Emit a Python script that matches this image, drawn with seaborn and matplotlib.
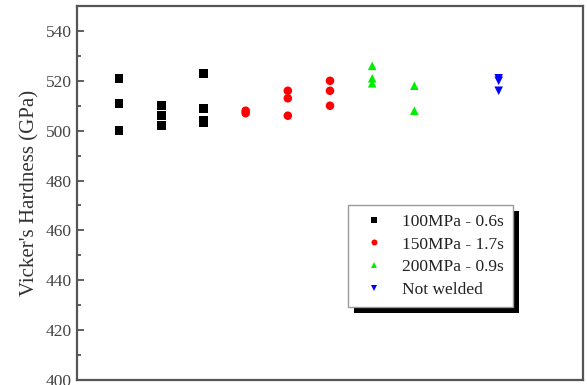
import numpy as np
import pandas as pd
import matplotlib
matplotlib.use("Agg")
import matplotlib.pyplot as plt
from matplotlib.patches import Rectangle
from matplotlib.ticker import MultipleLocator
import seaborn as sns

# Vickers hardness measurements per sample position
positions_100 = [1, 1, 1, 2, 2, 2, 3, 3, 3, 3, 3]
hardness_100 = [521, 511, 500, 510, 506, 502, 523, 523, 509, 504, 503]

positions_150 = [4, 4, 5, 5, 5, 6, 6, 6]
hardness_150 = [508, 507, 516, 513, 506, 520, 516, 510]

positions_200 = [7, 7, 7, 8, 8]
hardness_200 = [526, 521, 519, 518, 508]

positions_ref = [10, 10, 10]
hardness_ref = [521, 520, 516]

series_labels = ["100MPa - 0.6s", "150MPa - 1.7s", "200MPa - 0.9s", "Not welded"]
series_colors = ["#000000", "#ff0000", "#00ee00", "#0000ff"]
series_markers = ["s", "o", "^", "v"]
y_ticks = [400, 420, 440, 460, 480, 500, 520, 540]

frames = []
for lab, xs, ys in zip(series_labels,
                       [positions_100, positions_150, positions_200, positions_ref],
                       [hardness_100, hardness_150, hardness_200, hardness_ref]):
    frames.append(pd.DataFrame({"position": xs, "hardness": ys, "condition": lab}))
df = pd.concat(frames, ignore_index=True)

sns.set_style("white")
plt.rcParams["font.family"] = ["Liberation Serif", "DejaVu Serif"]

fig = plt.figure(figsize=(5.87, 3.85), dpi=100)
ax = fig.add_axes([77 / 587, 5 / 385, 506 / 587, 374 / 385])

sns.scatterplot(
    data=df, x="position", y="hardness",
    hue="condition", style="condition",
    hue_order=series_labels, style_order=series_labels,
    palette=dict(zip(series_labels, series_colors)),
    markers=dict(zip(series_labels, series_markers)),
    s=38, linewidth=0, ax=ax,
)

ax.set_xlim(0, 12)
ax.set_ylim(400, 550)
ax.set_xticks([])
ax.set_yticks(y_ticks)
ax.yaxis.set_minor_locator(MultipleLocator(10))
ax.tick_params(axis="y", which="major", direction="in", length=5, width=1.2,
               color="#444444", labelcolor="#444444", labelsize=12.5, pad=4, left=True)
ax.tick_params(axis="y", which="minor", direction="in", length=3, width=1.2,
               color="#444444", left=True)
ax.set_xlabel("")
ax.set_ylabel("Vicker's Hardness (GPa)", fontsize=15, color="#333333", labelpad=4)

for sp in ax.spines.values():
    sp.set_visible(True)
    sp.set_color("#555555")
    sp.set_linewidth(1.6)

handles, labels = ax.get_legend_handles_labels()
leg = ax.legend(handles, labels, loc="upper left", bbox_to_anchor=(0.536, 0.468),
                borderaxespad=0, frameon=True, fancybox=False, fontsize=12.5,
                markerscale=0.7, handletextpad=0.6, labelspacing=0.38,
                borderpad=0.5, handlelength=2.0)
frame = leg.get_frame()
frame.set_edgecolor("#999999")
frame.set_linewidth(1.0)
frame.set_facecolor("white")
frame.set_alpha(1)
for t in leg.get_texts():
    t.set_color("#222222")
leg.set_zorder(6)

# Solid offset shadow behind the legend box
fig.canvas.draw()
bb = leg.get_window_extent().transformed(ax.transAxes.inverted())
dx = 6 / 506
dy = 6 / 374
shadow = Rectangle((bb.x0 + dx, bb.y0 - dy), bb.width, bb.height,
                   transform=ax.transAxes, facecolor="black", edgecolor="none",
                   zorder=5, clip_on=False)
ax.add_patch(shadow)

fig.savefig("out.png", dpi=100)
